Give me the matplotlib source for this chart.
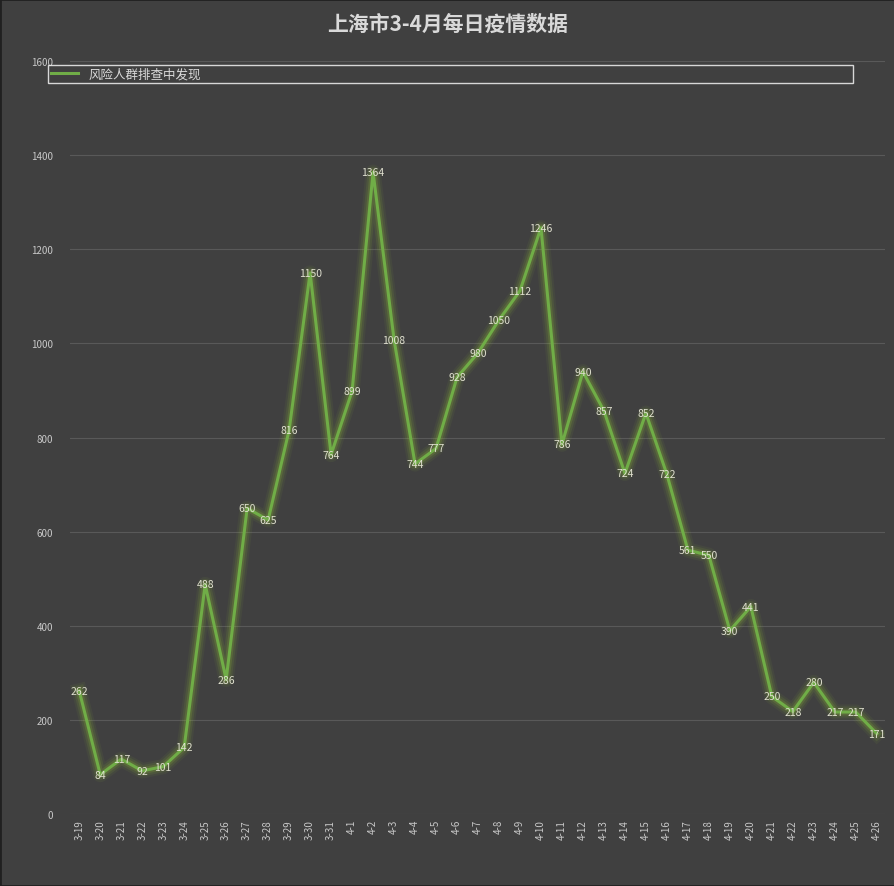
import matplotlib
matplotlib.use("Agg")
import matplotlib.pyplot as plt

plt.rcParams['font.family'] = ['Noto Sans CJK SC', 'DejaVu Sans']

dates = [f"3-{d}" for d in range(19, 32)] + [f"4-{d}" for d in range(1, 27)]
values = [262, 84, 117, 92, 101, 142, 488, 286, 650, 625, 816, 1150, 764, 899,
          1364, 1008, 744, 777, 928, 980, 1050, 1112, 1246, 786, 940, 857, 724,
          852, 722, 561, 550, 390, 441, 250, 218, 280, 217, 217, 171]
series_name = "风险人群排查中发现"
title = "上海市3-4月每日疫情数据"

bg = "#404040"
line_color = "#70ad47"

fig = plt.figure(figsize=(8.95, 8.87), dpi=100, facecolor=bg)
ax = fig.add_axes([0.078, 0.081, 0.911, 0.849], facecolor=bg)

x = list(range(len(values)))
# glow
for lw, a in [(11, 0.06), (8, 0.1), (5, 0.16)]:
    ax.plot(x, values, color="#9acd32", lw=lw, alpha=a, solid_joinstyle="round")
ax.plot(x, values, color=line_color, lw=2.2, label=series_name, zorder=3)

for xi, v in zip(x, values):
    ax.text(xi, v, str(v), ha="center", va="center", fontsize=7.5,
            color="#e0e0d0", zorder=4)

ax.set_ylim(0, 1600)
ax.set_xlim(-0.45, len(values) - 0.6)
ax.set_yticks(range(0, 1601, 200))
ax.set_xticks(x)
ax.set_xticklabels(dates, rotation=90, fontsize=7, color="#c8c8c8")
ax.tick_params(axis="y", labelsize=7, colors="#c8c8c8", length=0, pad=12)
ax.tick_params(axis="x", length=0)
ax.grid(axis="y", color="#595959", lw=0.8)
ax.set_axisbelow(True)
for s in ax.spines.values():
    s.set_visible(False)

leg = fig.legend(loc="lower left", bbox_to_anchor=(0.054, 0.905, 0.899, 0.027),
                 mode="expand", ncol=1, frameon=True, fontsize=9,
                 labelcolor="#d9d9d9", handlelength=2.2, borderaxespad=0,
                 borderpad=0.2)
for t in leg.get_texts():
    t.set_ha("left")
leg._legend_box.align = "center"
leg.get_frame().set_facecolor(bg)
leg.get_frame().set_edgecolor("white")
leg.get_frame().set_boxstyle("square", pad=0)
leg.get_frame().set_linewidth(1)

fig.suptitle(title, y=0.985, fontsize=15, fontweight="bold", color="#d9d9d9")
fig.patches.append(plt.Rectangle((0, 0), 1, 1, transform=fig.transFigure,
                                 fill=False, edgecolor="#202020", lw=2))
fig.savefig("out.png", dpi=100, facecolor=bg)
